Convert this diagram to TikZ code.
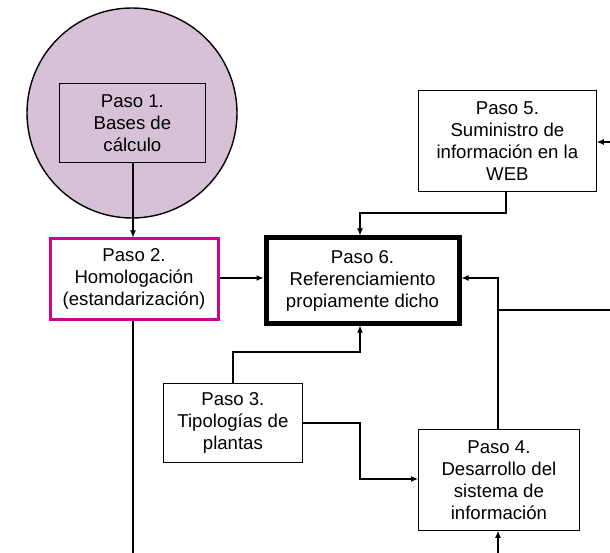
\documentclass[tikz,border=0pt]{standalone}
\usepackage{fontspec}
\setmainfont{Liberation Sans}
\usetikzlibrary{arrows.meta}
\definecolor{lilac}{RGB}{214,193,214}
\definecolor{magentaframe}{RGB}{204,0,153}
\tikzset{
  stepbox/.style={draw=black, line width=0.8pt, fill=white, align=center,
    font=\fontsize{18.6}{22}\selectfont, inner sep=0pt, anchor=north west},
  link/.style={draw=black, line width=1.1pt},
  arr/.style={link, -{Latex[length=7pt,width=6pt]}}
}
\begin{document}
\begin{tikzpicture}[x=1pt,y=-1pt]
\useasboundingbox (0,0) rectangle (610,553);
% background circle around step 1
\node (circ) [circle, draw=black, line width=1.4pt, fill=lilac, minimum size=210pt, inner sep=0pt] at (132,113) {};
% steps
\node (p1) [stepbox, fill=lilac, minimum width=146pt, minimum height=79pt] at (59,83) {Paso 1.\\Bases de\\cálculo};
\node (p2) [stepbox, draw=magentaframe, line width=3pt, minimum width=168pt, minimum height=80pt] at (48.5,237.5) {Paso 2.\\Homologación\\(estandarización)};
\node (p6) [stepbox, line width=5pt, minimum width=193pt, minimum height=85pt] at (263.5,235.5) {Paso 6.\\Referenciamiento\\propiamente dicho};
\node (p5) [stepbox, minimum width=178pt, minimum height=101pt] at (418,90) {Paso 5.\\Suministro de\\información en la\\WEB};
\node (p3) [stepbox, minimum width=139pt, minimum height=79pt] at (163,383) {Paso 3.\\Tipologías de\\plantas};
\node (p4) [stepbox, minimum width=161pt, minimum height=101pt] at (418,429) {Paso 4.\\Desarrollo del\\sistema de\\información};
% free ends at the border
\coordinate (inR5) at (610,142);
\coordinate (outR) at (610,310);
\coordinate (botL) at (133,553);
\coordinate (botR) at (498,553);
% connectors
\draw[arr] (p1.south -| 133,0) -- (p2.north -| 133,0);
\draw[link] (p2.south -| 133,0) -- (botL);
\draw[arr] (p2.east |- 0,278) -- (p6.west |- 0,278);
\draw[arr] (inR5) -- (p5.east |- inR5);
\draw[arr] (p5.south -| 506,0) -- (506,213) -- (360,213) -- (p6.north -| 360,0);
\draw[arr] (p3.north -| 233,0) -- (233,352) -- (360,352) -- (p6.south -| 360,0);
\draw[arr] (p3.east |- 0,423) -- (360,423) -- (360,479) -- (p4.west |- 0,479);
\draw[arr] (p4.north -| 498,0) -- (498,278) -- (p6.east |- 0,278);
\draw[link] (498,310) -- (outR);
\draw[arr] (botR) -- (p4.south -| 498,0);
\end{tikzpicture}
\end{document}
